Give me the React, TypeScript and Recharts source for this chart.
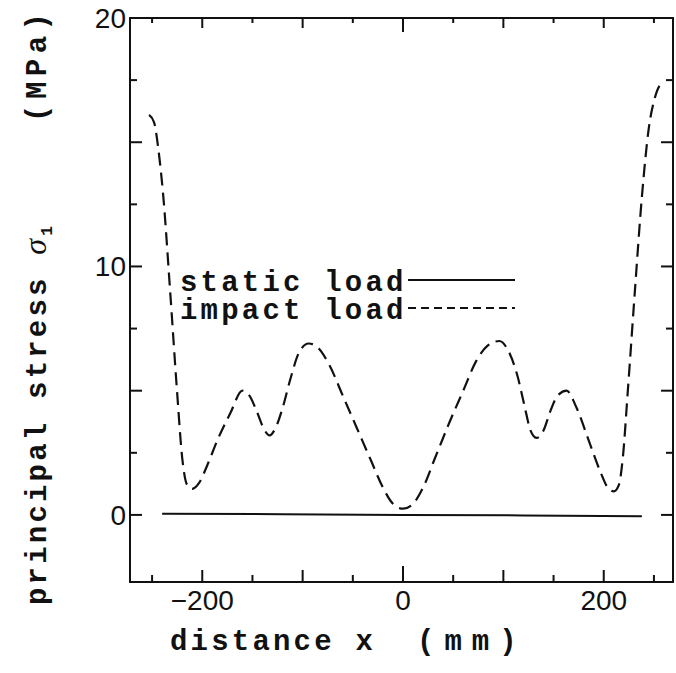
import { LineChart, Line, XAxis, YAxis, Label, ReferenceArea } from 'recharts'

// impact load curve (dashed)
const impactX = [
  -253, -248, -244, -239, -232, -225, -220, -215, -210, -203, -195, -185, -172, -160, -153, -146,
  -139, -133, -127, -120, -112, -104, -94, -84, -73, -60, -46, -32, -20, -10, 0, 10, 20, 32, 46,
  60, 73, 84, 96, 105, 114, 121, 127, 133, 140, 147, 154, 163, 173, 185, 196, 204, 210, 215, 219,
  224, 231, 238, 245, 251, 256, 260,
]
const impactY = [
  16.1, 15.8, 14.8, 12.9, 9.0, 4.9, 2.3, 1.2, 1.05, 1.3, 2.0, 3.0, 4.1, 5.0, 4.8, 4.2, 3.5, 3.2,
  3.5, 4.3, 5.5, 6.5, 6.9, 6.7, 6.0, 4.8, 3.5, 2.2, 1.1, 0.45, 0.25, 0.45, 1.1, 2.3, 3.7, 5.0, 6.2,
  6.8, 7.0, 6.6, 5.6, 4.4, 3.4, 3.1, 3.4, 4.2, 4.8, 5.0, 4.3, 3.0, 1.8, 1.1, 0.95, 1.2, 2.3, 5.0,
  9.0, 12.8, 15.6, 16.8, 17.3, 17.4,
]

// static load (solid)
const staticX = [-240, -120, 0, 120, 238]
const staticY = [0.05, 0.03, 0.0, -0.02, -0.05]

const xTicks = [-250, -200, -150, -100, -50, 0, 50, 100, 150, 200, 250]
const yTicks = [0, 2.5, 5, 7.5, 10, 12.5, 15, 17.5, 20]
const xLabelled = [-200, 0, 200]
const yLabelled = [0, 10, 20]
const xDomain = [-272, 269]
const yDomain = [-2.7, 20]

const impact = impactX.map((x, i) => ({ x, y: impactY[i] }))
const staticLoad = staticX.map((x, i) => ({ x, y: staticY[i] }))

const ink = '#111'
const mono = '"Liberation Mono", "DejaVu Sans Mono", monospace'
const sans = '"Liberation Sans", Arial, sans-serif'
const serif = '"Liberation Serif", "DejaVu Serif", serif'

const xLen = (v: number) => (v === 0 ? 16 : v % 100 === 0 ? 12 : 7)
const yLen = (v: number) => (v % 5 === 0 ? 12 : 7)

function BottomTick({ x, y, payload }: any) {
  const v = payload.value
  return (
    <g>
      <line x1={x} y1={y} x2={x} y2={y - xLen(v)} stroke={ink} strokeWidth={2} />
      {xLabelled.includes(v) && (
        <text x={x} y={y + 28} textAnchor="middle" fontFamily={sans} fontSize={28} fill={ink}>
          {v < 0 ? '\u2212' + Math.abs(v) : v}
        </text>
      )}
    </g>
  )
}

function TopTick({ x, y, payload }: any) {
  return <line x1={x} y1={y} x2={x} y2={y + xLen(payload.value) - 2} stroke={ink} strokeWidth={2} />
}

function LeftTick({ x, y, payload }: any) {
  const v = payload.value
  return (
    <g>
      <line x1={x} y1={y} x2={x + yLen(v)} y2={y} stroke={ink} strokeWidth={2} />
      {yLabelled.includes(v) && (
        <text x={x - 4} y={y + 10} textAnchor="end" fontFamily={sans} fontSize={28} fill={ink}>
          {v}
        </text>
      )}
    </g>
  )
}

function RightTick({ x, y, payload }: any) {
  return <line x1={x} y1={y} x2={x - yLen(payload.value)} y2={y} stroke={ink} strokeWidth={2} />
}

// x title plus the in-plot key (static / impact)
function XTitle() {
  return (
    <g fontFamily={mono} fontSize={29} fontWeight="bold" fill={ink}>
      <text x={170} y={650} letterSpacing={3.2}>distance x</text>
      <text x={417} y={650} letterSpacing={10}>(mm)</text>
      <g letterSpacing={3.2}>
        <text x={180} y={291}>static load</text>
        <text x={180} y={319}>impact load</text>
      </g>
      <line x1={408} y1={280} x2={515} y2={280} stroke={ink} strokeWidth={2} />
      <line x1={408} y1={308} x2={515} y2={308} stroke={ink} strokeWidth={2} strokeDasharray="8 5" />
    </g>
  )
}

function YTitle() {
  return (
    <g fontFamily={mono} fontSize={29} fontWeight="bold" fill={ink}>
      <text x={46} y={605} transform="rotate(-90 46 605)" letterSpacing={3.2}>
        principal stress{' '}
        <tspan fontFamily={serif} fontStyle="italic" fontWeight="normal" fontSize={32}>σ</tspan>
        <tspan fontSize={16} dy={6}>1</tspan>
      </text>
      <text x={46} y={122} transform="rotate(-90 46 122)" letterSpacing={5.5}>(MPa)</text>
    </g>
  )
}

export default function App() {
  return (
    <div style={{ width: 676, height: 673 }}>
      <style>{'html,body{margin:0;overflow:hidden;background:#fff}'}</style>
      <LineChart width={676} height={673} margin={{ top: 17, right: 2, bottom: 90, left: 129 }}>
        <XAxis
          dataKey="x"
          type="number"
          domain={xDomain}
          ticks={xTicks}
          interval={0}
          allowDataOverflow
          height={1}
          tickSize={0}
          tickMargin={0}
          tickLine={false}
          tick={<BottomTick />}
          axisLine={{ stroke: ink, strokeWidth: 2 }}
        >
          <Label content={<XTitle />} />
        </XAxis>
        <XAxis
          xAxisId="t"
          orientation="top"
          dataKey="x"
          type="number"
          domain={xDomain}
          ticks={xTicks}
          interval={0}
          allowDataOverflow
          height={1}
          tickSize={0}
          tickMargin={0}
          tickLine={false}
          tick={<TopTick />}
          axisLine={{ stroke: ink, strokeWidth: 2 }}
        />
        <YAxis
          type="number"
          domain={yDomain}
          ticks={yTicks}
          interval={0}
          allowDataOverflow
          width={1}
          tickSize={0}
          tickMargin={0}
          tickLine={false}
          tick={<LeftTick />}
          axisLine={{ stroke: ink, strokeWidth: 2 }}
        >
          <Label content={<YTitle />} />
        </YAxis>
        <YAxis
          yAxisId="r"
          orientation="right"
          type="number"
          domain={yDomain}
          ticks={yTicks}
          interval={0}
          allowDataOverflow
          width={1}
          tickSize={0}
          tickMargin={0}
          tickLine={false}
          tick={<RightTick />}
          axisLine={{ stroke: ink, strokeWidth: 2 }}
        />
        {/* frame of the plot */}
        <ReferenceArea
          x1={xDomain[0]}
          x2={xDomain[1]}
          y1={yDomain[0]}
          y2={yDomain[1]}
          fill="none"
          stroke={ink}
          strokeWidth={2}
          ifOverflow="visible"
        />
        <Line
          data={staticLoad}
          dataKey="y"
          name="static load"
          type="linear"
          stroke={ink}
          strokeWidth={2}
          dot={false}
          isAnimationActive={false}
        />
        <Line
          data={impact}
          dataKey="y"
          name="impact load"
          type="monotone"
          stroke={ink}
          strokeWidth={2.2}
          strokeDasharray="13 7"
          dot={false}
          isAnimationActive={false}
        />
      </LineChart>
    </div>
  )
}
